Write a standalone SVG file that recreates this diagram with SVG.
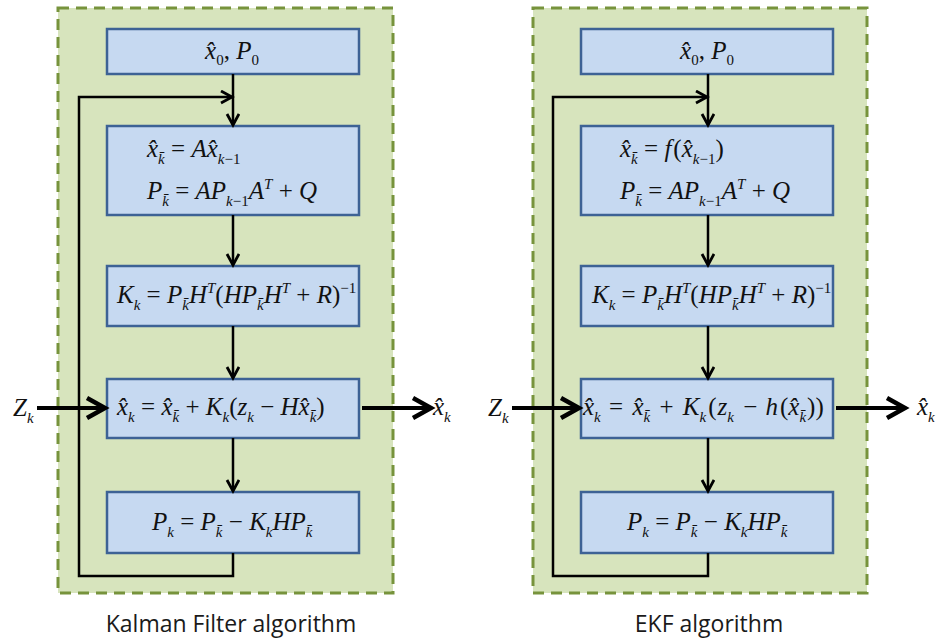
<svg xmlns="http://www.w3.org/2000/svg" width="944" height="642" viewBox="0 0 944 642">
<style>
.panel{fill:#d7e4bd;stroke:#77933c;stroke-width:3;stroke-dasharray:11 7}
.box{fill:#c6d9f1;stroke:#3d6295;stroke-width:2.5}
.eq{font-family:"Liberation Serif","Times New Roman",serif;font-size:25px;fill:#111}
.v{font-style:italic}
.sb{font-size:15px}
.cap{font-family:"Open Sans","Noto Sans",sans-serif;font-size:23px;fill:#1a1a1a}
.thin{fill:none;stroke:#000;stroke-width:2.5;marker-end:url(#ah)}
.thick{fill:none;stroke:#000;stroke-width:4;marker-end:url(#ahb)}
</style>
<defs>
<marker id="ah" markerUnits="userSpaceOnUse" markerWidth="16" markerHeight="16" refX="13" refY="7" orient="auto">
<path d="M2,1 L13,7 L2,13" fill="none" stroke="#000" stroke-width="2.8"/>
</marker>
<marker id="ahb" markerUnits="userSpaceOnUse" markerWidth="26" markerHeight="26" refX="22" refY="12" orient="auto">
<path d="M3,2 L21,12 L3,22" fill="none" stroke="#000" stroke-width="4.5"/>
</marker>
</defs>

<!-- Kalman filter panel -->
<g id="kf">
<rect class="panel" x="58" y="8" width="335" height="585"/>
<g id="kf-init"><rect class="box" x="107" y="29" width="252" height="45"/>
<text class="eq" x="232" y="59" text-anchor="middle"><tspan class="v">x&#x302;</tspan><tspan class="sb" dy="6">0</tspan><tspan dy="-6">, </tspan><tspan class="v">P</tspan><tspan class="sb" dy="6">0</tspan></text></g>
<g id="kf-predict"><rect class="box" x="107" y="126" width="252" height="89"/>
<text class="eq" x="147" y="157"><tspan class="v">x&#x302;</tspan><tspan class="v sb" dy="7">k&#x304;</tspan><tspan dy="-7"> = </tspan><tspan class="v">Ax&#x302;</tspan><tspan class="v sb" dy="7">k</tspan><tspan class="sb">&#x2212;1</tspan></text>
<text class="eq" x="147" y="199"><tspan class="v">P</tspan><tspan class="v sb" dy="7">k&#x304;</tspan><tspan dy="-7"> = </tspan><tspan class="v">AP</tspan><tspan class="v sb" dy="7">k</tspan><tspan class="sb">&#x2212;1</tspan><tspan class="v" dy="-7">A</tspan><tspan class="v sb" dy="-10">T</tspan><tspan dy="10"> + </tspan><tspan class="v">Q</tspan></text></g>
<g id="kf-gain"><rect class="box" x="107" y="266" width="252" height="60"/>
<text class="eq" x="117" y="303"><tspan class="v">K</tspan><tspan class="v sb" dy="7">k</tspan><tspan dy="-7"> = </tspan><tspan class="v">P</tspan><tspan class="v sb" dy="7">k&#x304;</tspan><tspan class="v" dy="-7">H</tspan><tspan class="v sb" dy="-10">T</tspan><tspan dy="10">(</tspan><tspan class="v">HP</tspan><tspan class="v sb" dy="7">k&#x304;</tspan><tspan class="v" dy="-7">H</tspan><tspan class="v sb" dy="-10">T</tspan><tspan dy="10"> + </tspan><tspan class="v">R</tspan><tspan>)</tspan><tspan class="sb" dy="-10">&#x2212;1</tspan></text></g>
<g id="kf-update"><rect class="box" x="107" y="379" width="252" height="59"/>
<text class="eq" x="117" y="415"><tspan class="v">x&#x302;</tspan><tspan class="v sb" dy="7">k</tspan><tspan dy="-7"> = </tspan><tspan class="v">x&#x302;</tspan><tspan class="v sb" dy="7">k&#x304;</tspan><tspan dy="-7"> + </tspan><tspan class="v">K</tspan><tspan class="v sb" dy="7">k</tspan><tspan dy="-7">(</tspan><tspan class="v">z</tspan><tspan class="v sb" dy="7">k</tspan><tspan dy="-7"> &#x2212; </tspan><tspan class="v">Hx&#x302;</tspan><tspan class="v sb" dy="7">k&#x304;</tspan><tspan dy="-7">)</tspan></text></g>
<g id="kf-cov"><rect class="box" x="107" y="492" width="252" height="61"/>
<text class="eq" x="152" y="530"><tspan class="v">P</tspan><tspan class="v sb" dy="7">k</tspan><tspan dy="-7"> = </tspan><tspan class="v">P</tspan><tspan class="v sb" dy="7">k&#x304;</tspan><tspan dy="-7"> &#x2212; </tspan><tspan class="v">K</tspan><tspan class="v sb" dy="7">k</tspan><tspan class="v" dy="-7">HP</tspan><tspan class="v sb" dy="7">k&#x304;</tspan></text></g>
<g id="kf-z"><text class="eq" x="13" y="416"><tspan class="v">Z</tspan><tspan class="v sb" dy="7">k</tspan></text></g>
<g id="kf-out"><text class="eq" x="433" y="415"><tspan class="v">x&#x302;</tspan><tspan class="v sb" dy="7">k</tspan></text></g>
<text class="cap" x="231" y="632" text-anchor="middle">Kalman Filter algorithm</text>
</g>

<!-- EKF panel -->
<g id="ekf">
<rect class="panel" x="533" y="8" width="334" height="585"/>
<g id="ekf-init"><rect class="box" x="581" y="29" width="252" height="45"/>
<text class="eq" x="707" y="59" text-anchor="middle"><tspan class="v">x&#x302;</tspan><tspan class="sb" dy="6">0</tspan><tspan dy="-6">, </tspan><tspan class="v">P</tspan><tspan class="sb" dy="6">0</tspan></text></g>
<g id="ekf-predict"><rect class="box" x="581" y="126" width="252" height="89"/>
<text class="eq" x="620" y="157"><tspan class="v">x&#x302;</tspan><tspan class="v sb" dy="7">k&#x304;</tspan><tspan dy="-7"> = </tspan><tspan class="v">f</tspan><tspan dx="2">(</tspan><tspan class="v">x&#x302;</tspan><tspan class="v sb" dy="7">k</tspan><tspan class="sb">&#x2212;1</tspan><tspan dy="-7">)</tspan></text>
<text class="eq" x="620" y="199"><tspan class="v">P</tspan><tspan class="v sb" dy="7">k&#x304;</tspan><tspan dy="-7"> = </tspan><tspan class="v">AP</tspan><tspan class="v sb" dy="7">k</tspan><tspan class="sb">&#x2212;1</tspan><tspan class="v" dy="-7">A</tspan><tspan class="v sb" dy="-10">T</tspan><tspan dy="10"> + </tspan><tspan class="v">Q</tspan></text></g>
<g id="ekf-gain"><rect class="box" x="581" y="266" width="252" height="60"/>
<text class="eq" x="592" y="303"><tspan class="v">K</tspan><tspan class="v sb" dy="7">k</tspan><tspan dy="-7"> = </tspan><tspan class="v">P</tspan><tspan class="v sb" dy="7">k&#x304;</tspan><tspan class="v" dy="-7">H</tspan><tspan class="v sb" dy="-10">T</tspan><tspan dy="10">(</tspan><tspan class="v">HP</tspan><tspan class="v sb" dy="7">k&#x304;</tspan><tspan class="v" dy="-7">H</tspan><tspan class="v sb" dy="-10">T</tspan><tspan dy="10"> + </tspan><tspan class="v">R</tspan><tspan>)</tspan><tspan class="sb" dy="-10">&#x2212;1</tspan></text></g>
<g id="ekf-update"><rect class="box" x="581" y="379" width="252" height="59"/>
<text class="eq" x="583" y="415"><tspan class="v">x&#x302;</tspan><tspan class="v sb" dy="7">k</tspan><tspan dy="-7" dx="2"> = </tspan><tspan class="v" dx="3">x&#x302;</tspan><tspan class="v sb" dy="7">k&#x304;</tspan><tspan dy="-7" dx="3"> + </tspan><tspan class="v" dx="3">K</tspan><tspan class="v sb" dy="7">k</tspan><tspan dy="-7" dx="2">(</tspan><tspan class="v" dx="1">z</tspan><tspan class="v sb" dy="7">k</tspan><tspan dy="-7" dx="3"> &#x2212; </tspan><tspan class="v" dx="2">h</tspan><tspan dx="2">(</tspan><tspan class="v">x&#x302;</tspan><tspan class="v sb" dy="7">k&#x304;</tspan><tspan dy="-7" dx="1">))</tspan></text></g>
<g id="ekf-cov"><rect class="box" x="581" y="492" width="252" height="61"/>
<text class="eq" x="627" y="530"><tspan class="v">P</tspan><tspan class="v sb" dy="7">k</tspan><tspan dy="-7"> = </tspan><tspan class="v">P</tspan><tspan class="v sb" dy="7">k&#x304;</tspan><tspan dy="-7"> &#x2212; </tspan><tspan class="v">K</tspan><tspan class="v sb" dy="7">k</tspan><tspan class="v" dy="-7">HP</tspan><tspan class="v sb" dy="7">k&#x304;</tspan></text></g>
<g id="ekf-z"><text class="eq" x="488" y="416"><tspan class="v">Z</tspan><tspan class="v sb" dy="7">k</tspan></text></g>
<g id="ekf-out"><text class="eq" x="917" y="415"><tspan class="v">x&#x302;</tspan><tspan class="v sb" dy="7">k</tspan></text></g>
<text class="cap" x="709" y="632" text-anchor="middle">EKF algorithm</text>
</g>

<!-- connectors -->
<g id="connectors">
<path class="thin" d="M233,74 V125"/>
<path class="thin" d="M233,553 V576 H79 V97 H232"/>
<path class="thin" d="M233,215 V265"/>
<path class="thin" d="M233,326 V378"/>
<path class="thin" d="M233,438 V491"/>
<path class="thick" d="M37,408 H106"/>
<path class="thick" d="M362,408 H432"/>
<path class="thin" d="M708,74 V125"/>
<path class="thin" d="M708,553 V576 H553 V97 H707"/>
<path class="thin" d="M708,215 V265"/>
<path class="thin" d="M708,326 V378"/>
<path class="thin" d="M708,438 V491"/>
<path class="thick" d="M512,408 H580"/>
<path class="thick" d="M836,408 H906"/>
</g>
</svg>
